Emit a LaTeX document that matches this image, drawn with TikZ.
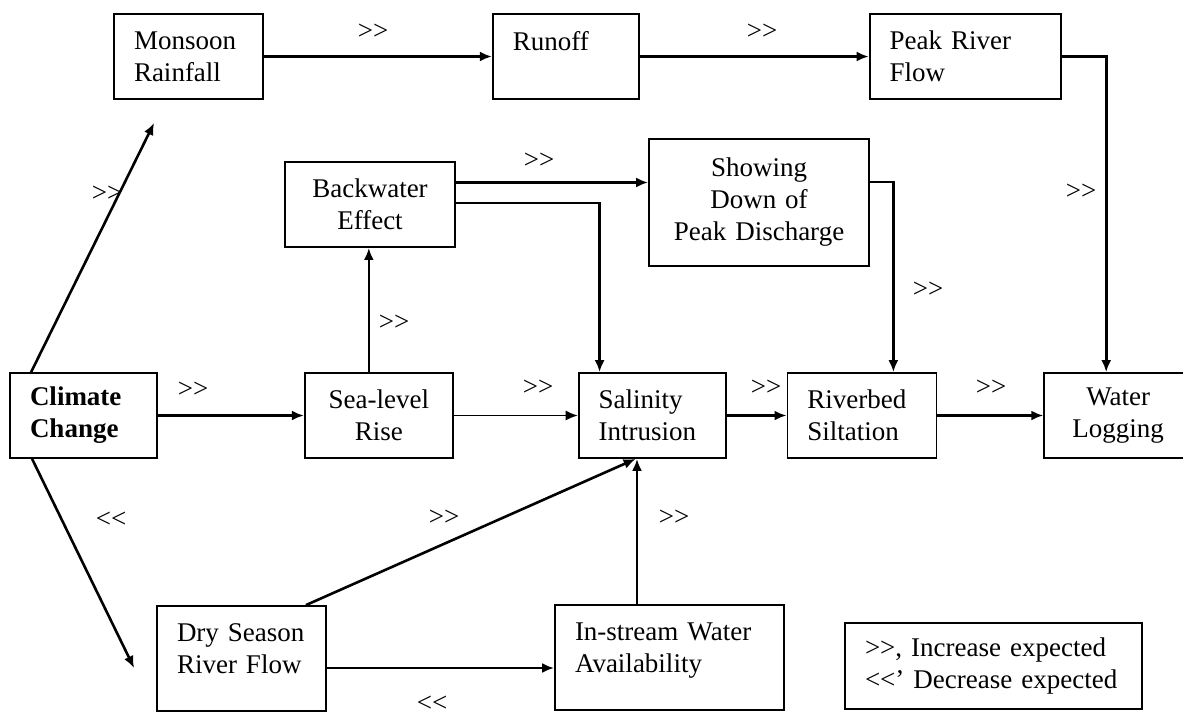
\documentclass[tikz,border=0pt]{standalone}
\usepackage{fontspec}
\setmainfont{Liberation Serif}
\usepackage{tikz}
\usetikzlibrary{arrows.meta,positioning}
\newcommand{\incr}{>\kern0pt>}
\newcommand{\decr}{<\kern0pt<}
\tikzset{
	factor/.style={
		draw, rectangle, line width=0.9pt,
		minimum height=42.5pt, inner xsep=10pt, inner ysep=0pt,
		align=left, text=black,
		font=\fontsize{13.5}{16}\selectfont
	},
	midfactor/.style={factor, align=center},
	trend/.style={font=\fontsize{13.5}{16}\selectfont, inner sep=0pt},
	>={Latex[length=6pt,width=5pt]},
	link/.style={->, line width=1.3pt},
	thinlink/.style={->, line width=0.65pt}
}
\begin{document}
\begin{tikzpicture}[x=0.5pt,y=-0.5pt]
	\useasboundingbox (0,0) rectangle (1183,720);
	\node[factor, text width=54.5pt] (monsoon) at (188.5,56.5) {Monsoon\\Rainfall};
	\node[factor, text width=53pt] (runoff) [right=114pt of monsoon] {Runoff\\\mbox{}};
	\node[factor, text width=75.5pt] (peak) [right=114.5pt of runoff] {Peak River\\Flow};
	\node[factor, text width=53.5pt, font=\fontsize{13.5}{16}\selectfont\bfseries] (climate) at (83.5,415.5) {Climate\\Change};
	\node[midfactor, text width=54pt] (sealevel) [right=73pt of climate] {Sea-level\\Rise};
	\node[factor, text width=53.5pt] (salinity) [right=62pt of sealevel] {Salinity\\Intrusion};
	\node[factor, text width=54.5pt] (riverbed) [right=30pt of salinity] {Riverbed\\Siltation};
	\node[midfactor, text width=54pt] (logging) [right=53pt of riverbed] {Water\\Logging};
	\node[midfactor, text width=65pt] (backwater) at (370,204.5) {Backwater\\Effect};
	\node[midfactor, text width=90pt, minimum height=63.5pt] (showing) at (759,202.5) {Showing\\Down of\\Peak Discharge};
	\node[factor, text width=64.5pt, minimum height=52.5pt] (dry) at (241.5,658.5) {Dry Season\\River Flow\\[-6pt]\mbox{}};
	\node[factor, text width=94.5pt, minimum height=52.5pt] (instream) at (669.5,657.5) {In-stream Water\\Availability\\[-6pt]\mbox{}};
	\node[factor, text width=128.5pt, minimum height=43pt] (legend) at (993.5,666) {\incr, Increase expected\\\decr' Decrease expected};

	\draw[link] (monsoon) -- (runoff);
	\draw[link] (runoff) -- (peak);
	\draw[link] (peak.east) -| ([xshift=-6pt]logging.north);
	\draw[link] ([xshift=11pt]climate.north west) -- ([xshift=20.5pt,yshift=-11.5pt]monsoon.south west);
	\draw[link] (climate) -- (sealevel);
	\draw[thinlink] (sealevel) -- (salinity);
	\draw[link] ([xshift=-5pt]sealevel.north) -- ([xshift=-5pt]sealevel.north |- backwater.south);
	\draw[link] ([yshift=11pt]backwater.east) -- ([yshift=11pt]backwater.east -| showing.west);
	\draw[link] ([yshift=0.75pt]backwater.east) -| ([xshift=-26.25pt]salinity.north);
	\draw[link] ([yshift=10.25pt]showing.east) -| ([xshift=15.75pt]riverbed.north);
	\draw[link] (salinity) -- (riverbed);
	\draw[link] (riverbed) -- (logging);
	\draw[link] ([xshift=11.5pt]climate.south west) -- ([xshift=-11pt,yshift=-4.75pt]dry.west);
	\draw[link] ([xshift=-10.5pt]dry.north east) -- ([xshift=-8.25pt]salinity.south);
	\draw[link] ([xshift=-16.25pt]instream.north) -- ([xshift=-16.25pt]instream.north |- salinity.south);
	\draw[link] ([yshift=-4.75pt]dry.east) -- ([yshift=-4.75pt]dry.east -| instream.west);

	\node[trend] (upRunoff) at (373,32) {\incr};
	\node[trend] (upPeak) at (762,32) {\incr};
	\node[trend] (upLogA) at (1081,192) {\incr};
	\node[trend] (upMonsoon) at (107,194) {\incr};
	\node[trend] (upSea) at (193,390) {\incr};
	\node[trend] (upSalA) at (538,388) {\incr};
	\node[trend] (upBack) at (394,323) {\incr};
	\node[trend] (upShow) at (539,161) {\incr};
	\node[trend] (upRiverA) at (928,290) {\incr};
	\node[trend] (upRiverB) at (766,388) {\incr};
	\node[trend] (upLogB) at (991,388) {\incr};
	\node[trend] (downDry) at (111,520) {\decr};
	\node[trend] (upSalB) at (444,518) {\incr};
	\node[trend] (upSalC) at (674,518) {\incr};
	\node[trend] (downStream) at (432,704) {\decr};
\end{tikzpicture}
\end{document}
